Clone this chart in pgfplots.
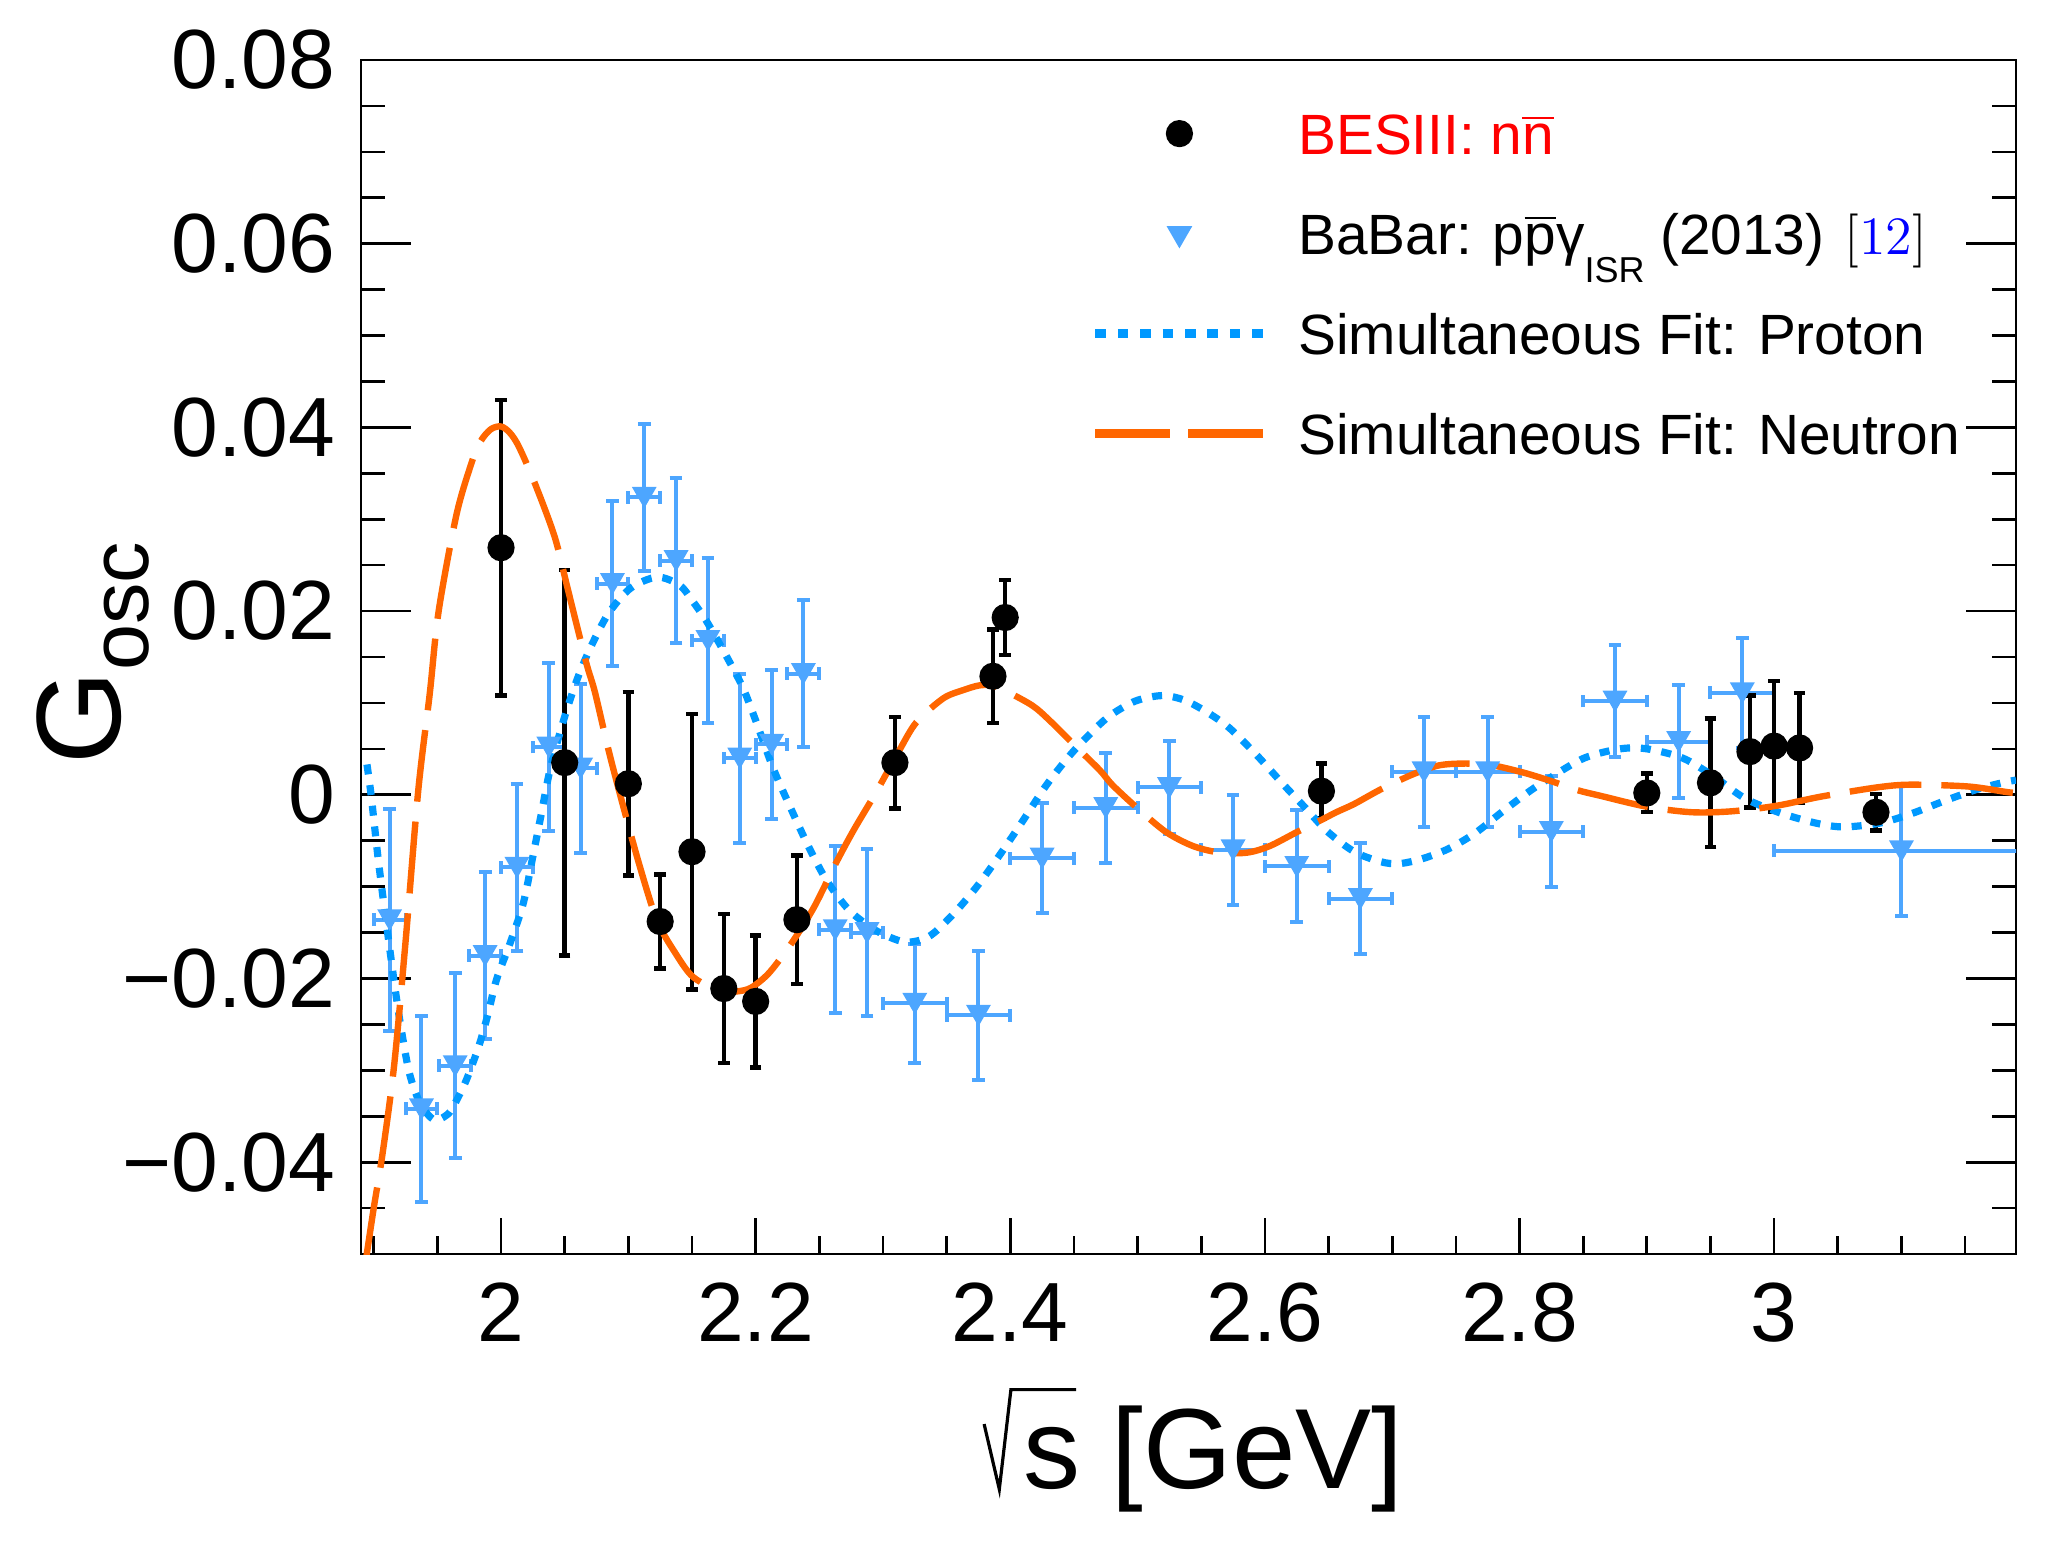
\documentclass[border=0pt]{standalone}
\usepackage{fontspec}
\usepackage{pgfplots}
\usepackage{pgfplotstable}
\pgfplotsset{compat=1.18}
\newfontfamily\helv{Liberation Sans}
\definecolor{nfit}{RGB}{255,102,0}
\definecolor{pfit}{RGB}{0,153,255}
\definecolor{babar}{RGB}{77,166,255}

\pgfplotstableread{
x y ey
2.0000 0.0269 0.0161
2.0500 0.0035 0.0210
2.1000 0.0012 0.0100
2.1250 -0.0138 0.0051
2.1500 -0.0062 0.0150
2.1750 -0.0211 0.0081
2.2000 -0.0225 0.0072
2.2324 -0.0136 0.0070
2.3094 0.0035 0.0050
2.3864 0.0129 0.0051
2.3960 0.0193 0.0041
2.6444 0.0004 0.0030
2.9000 0.0002 0.0021
2.9500 0.0013 0.0070
2.9810 0.0047 0.0061
3.0000 0.0053 0.0071
3.0200 0.0051 0.0060
3.0800 -0.0019 0.0020
}\bes

\pgfplotstableread{
x y ex ey
1.9125 -0.0136 0.0125 0.0121
1.9375 -0.0342 0.0125 0.0101
1.9640 -0.0295 0.0125 0.0101
1.9875 -0.0175 0.0125 0.0091
2.0125 -0.0079 0.0125 0.0091
2.0375 0.0052 0.0125 0.0091
2.0625 0.0029 0.0125 0.0092
2.0875 0.0230 0.0125 0.0090
2.1125 0.0324 0.0125 0.0080
2.1375 0.0255 0.0125 0.0090
2.1625 0.0168 0.0125 0.0090
2.1875 0.0040 0.0125 0.0092
2.2125 0.0055 0.0125 0.0081
2.2375 0.0132 0.0125 0.0080
2.2625 -0.0147 0.0125 0.0091
2.2875 -0.0150 0.0125 0.0091
2.3250 -0.0227 0.025 0.0065
2.3750 -0.0240 0.025 0.0070
2.4250 -0.0069 0.025 0.0060
2.4750 -0.0014 0.025 0.0060
2.5250 0.0008 0.025 0.0051
2.5750 -0.0060 0.025 0.0060
2.6250 -0.0078 0.025 0.0061
2.6750 -0.0113 0.025 0.0060
2.7250 0.0025 0.025 0.0060
2.7750 0.0025 0.025 0.0060
2.8250 -0.0040 0.025 0.0060
2.8750 0.0102 0.025 0.0061
2.9250 0.0058 0.025 0.0061
2.9750 0.0111 0.025 0.0060
3.1000 -0.0061 0.100 0.0071
}\bab

\pgfplotstableread{
x y
1.8940 -0.0505
1.9000 -0.0450
1.9070 -0.0390
1.9160 -0.0295
1.9250 -0.0160
1.9350 0.0005
1.9440 0.0110
1.9510 0.0200
1.9650 0.0305
1.9770 0.0362
1.9840 0.0385
1.9920 0.0398
2.0000 0.0401
2.0070 0.0394
2.0140 0.0379
2.0263 0.0340
2.0421 0.0281
2.0526 0.0223
2.0667 0.0145
2.0737 0.0112
2.0842 0.0050
2.0947 -0.0006
2.1088 -0.0077
2.1228 -0.0138
2.1386 -0.0176
2.1490 -0.0196
2.1596 -0.0206
2.1754 -0.0214
2.1860 -0.0214
2.1965 -0.0210
2.2105 -0.0194
2.2280 -0.0162
2.2456 -0.0123
2.2632 -0.0074
2.2772 -0.0038
2.2947 0.0003
2.3123 0.0047
2.3263 0.0079
2.3474 0.0105
2.3632 0.0114
2.3754 0.0119
2.3860 0.0119
2.3965 0.0113
2.4175 0.0097
2.4316 0.0080
2.4526 0.0051
2.4702 0.0027
2.4807 0.0010
2.5018 -0.0017
2.5228 -0.0041
2.5439 -0.0056
2.5649 -0.0063
2.5860 -0.0063
2.6035 -0.0056
2.6246 -0.0041
2.6421 -0.0029
2.6561 -0.0019
2.6702 -0.0010
2.6912 0.0006
2.7158 0.0022
2.7368 0.0032
2.7579 0.0034
2.7789 0.0032
2.8035 0.0024
2.8246 0.0015
2.8456 0.0005
2.8632 -0.0001
2.9000 -0.0013
2.9351 -0.0019
2.9667 -0.0018
3.0018 -0.0012
3.0368 -0.0002
3.0807 0.0008
3.1070 0.0011
3.1526 0.0009
3.1825 0.0003
3.1900 0.0002
}\nfitdata

\pgfplotstableread{
x y
1.8947 0.0033
1.8980 -0.0001
1.9035 -0.0070
1.9088 -0.0128
1.9158 -0.0201
1.9210 -0.0250
1.9280 -0.0303
1.9368 -0.0337
1.9474 -0.0354
1.9560 -0.0350
1.9614 -0.0342
1.9720 -0.0313
1.9825 -0.0274
1.9895 -0.0240
1.9965 -0.0201
2.0070 -0.0162
2.0175 -0.0118
2.0246 -0.0070
2.0316 -0.0021
2.0386 0.0028
2.0491 0.0081
2.0596 0.0125
2.0702 0.0160
2.0842 0.0197
2.1018 0.0225
2.1228 0.0237
2.1404 0.0228
2.1509 0.0210
2.1614 0.0189
2.1754 0.0155
2.1895 0.0118
2.2000 0.0081
2.2140 0.0028
2.2280 -0.0016
2.2421 -0.0058
2.2561 -0.0094
2.2737 -0.0126
2.2947 -0.0148
2.3158 -0.0160
2.3300 -0.0158
2.3404 -0.0150
2.3579 -0.0126
2.3754 -0.0097
2.3930 -0.0063
2.4105 -0.0027
2.4281 0.0010
2.4456 0.0041
2.4596 0.0062
2.4772 0.0085
2.4982 0.0102
2.5193 0.0108
2.5368 0.0103
2.5544 0.0090
2.5719 0.0073
2.5930 0.0044
2.6140 0.0012
2.6316 -0.0014
2.6491 -0.0040
2.6702 -0.0062
2.6912 -0.0073
2.7053 -0.0075
2.7228 -0.0070
2.7439 -0.0059
2.7649 -0.0042
2.7860 -0.0019
2.8070 0.0003
2.8246 0.0019
2.8509 0.0040
2.8789 0.0050
2.9000 0.0050
2.9281 0.0040
2.9526 0.0020
2.9772 -0.0004
3.0053 -0.0020
3.0333 -0.0031
3.0544 -0.0035
3.0825 -0.0031
3.1070 -0.0021
3.1351 -0.0006
3.1596 0.0006
3.1789 0.0013
3.1900 0.0016
}\pfitdata

\begin{document}
\begin{tikzpicture}
\path[use as bounding box] (-90.25pt,-71.9pt) rectangle (422.75pt,313.5pt);
% x ticks (shorter than y ticks)
\begin{axis}[at={(0pt,0pt)}, anchor=south west, scale only axis,
  width=413.75pt, height=298.5pt,
  xmin=1.89, xmax=3.19, ymin=-0.05, ymax=0.08,
  axis line style={draw=none}, ytick=\empty,
  xtick={2,2.2,2.4,2.6,2.8,3}, xticklabels={},
  minor xtick={1.9,1.95,2.05,2.1,2.15,2.25,2.3,2.35,2.45,2.5,2.55,2.65,2.7,2.75,2.85,2.9,2.95,3.05,3.1,3.15},
  xtick pos=lower, tick align=inside,
  major tick length=9pt, minor tick length=4.5pt,
  tick style={line width=0.67pt, black}]
\end{axis}
\begin{axis}[at={(0pt,0pt)}, anchor=south west, scale only axis,
  width=413.75pt, height=298.5pt,
  xmin=1.89, xmax=3.19, ymin=-0.05, ymax=0.08,
  scaled y ticks=false, scaled x ticks=false,
  axis line style={line width=0.67pt, black},
  tick align=inside,
  tick style={line width=0.67pt, black},
  major tick length=12.5pt, minor tick length=6pt,
  xtick={2,2.2,2.4,2.6,2.8,3}, xticklabels={2,2.2,2.4,2.6,2.8,3},
  xtick style={draw=none},
  ytick={-0.04,-0.02,0,0.02,0.04,0.06,0.08},
  yticklabels={−0.04,−0.02,0,0.02,0.04,0.06,0.08},
  minor ytick={-0.045,-0.035,-0.03,-0.025,-0.015,-0.01,-0.005,0.005,0.01,0.015,0.025,0.03,0.035,0.045,0.05,0.055,0.065,0.07,0.075},
  ytick pos=both, yticklabel pos=left,
  ticklabel style={font=\helv\fontsize{21}{25}\selectfont},
  xticklabel style={anchor=north, inner sep=0pt, yshift=-7pt},
  yticklabel style={anchor=east, inner sep=0pt, xshift=-6.25pt},
  xlabel={\helv\fontsize{28.5}{34}\selectfont\tikz[baseline=0pt]{\draw[line width=0.8pt, line join=miter] (0pt,16pt) -- (3.8pt,-0.3pt) -- (6.7pt,24.6pt) -- (23pt,24.6pt); \node[anchor=base west, inner sep=0pt, font=\helv\fontsize{28.5}{34}\selectfont] at (9.6pt,0pt) {s};} [GeV]},
  xlabel style={at={(axis description cs:0.5027,-0.196)}, anchor=base, inner sep=0pt},
  ylabel={\helv\fontsize{30}{36}\selectfont G\raisebox{-7pt}{\fontsize{20.7}{24}\selectfont osc}},
  ylabel style={at={(axis description cs:-0.1456,0.5033)}, anchor=base, inner sep=0pt},
  legend image code/.code={\draw[mark repeat=2,mark phase=2,#1] plot coordinates {(0pt,0pt) (21pt,0pt) (42pt,0pt)};},
  legend cell align=left,
  legend style={at={(axis description cs:0.4411,0.96147)}, anchor=north west,
    draw=none, fill=none, inner sep=0pt, outer sep=0pt,
    row sep=11.2pt, column sep=7.6pt,
    font=\helv\fontsize{14.2}{17}\selectfont,
    nodes={inner sep=0pt, text height=12pt, text depth=1.8pt}},
]
\addlegendimage{only marks, mark=*, mark size=3.2pt, black}
\addlegendentry{\textcolor{red}{BESIII: n$\overline{\mbox{n}}$}}
\addlegendimage{only marks, mark=triangle*, mark size=3.3pt, mark options={rotate=180}, babar}
\addlegendentry{BaBar: p$\overline{\mbox{p}}$γ\raisebox{-7pt}{\fontsize{9}{10}\selectfont ISR} (2013)\hspace{5pt}{\rmfamily\fontsize{13.5}{15}\selectfont[\textcolor{blue}{12}]}}
\addlegendimage{pfit, line width=2.2pt, dash pattern=on 2.65pt off 2.95pt}
\addlegendentry{Simultaneous Fit: Proton}
\addlegendimage{nfit, line width=2.2pt, dash pattern=on 18.6pt off 4.6pt}
\addlegendentry{Simultaneous Fit: Neutron}

\addplot[forget plot, only marks, mark=triangle*, mark size=3.2pt, color=babar,
  mark options={rotate=180, yshift=-0.8pt, fill=babar, draw=babar},
  error bars/.cd, x dir=both, x explicit, y dir=both, y explicit,
  error bar style={line width=1pt, babar},
  error mark options={rotate=90, line width=1pt, mark size=1.6pt, babar}]
  table[x=x, y=y, x error=ex, y error=ey] {\bab};

\addplot[forget plot, only marks, mark=*, mark size=3.2pt, black,
  error bars/.cd, y dir=both, y explicit,
  error bar style={line width=1.1pt, black},
  error mark options={rotate=90, line width=1.1pt, mark size=1.45pt, black}]
  table[x=x, y=y, y error=ey] {\bes};

\addplot[forget plot, no markers, pfit, line width=1.8pt, dash pattern=on 2.5pt off 2.7pt, smooth, tension=0.5]
  table[x=x, y=y] {\pfitdata};
\addplot[forget plot, no markers, nfit, line width=1.6pt, dash pattern=on 18pt off 5pt, smooth, tension=0.5]
  table[x=x, y=y] {\nfitdata};
\end{axis}
\end{tikzpicture}
\end{document}
